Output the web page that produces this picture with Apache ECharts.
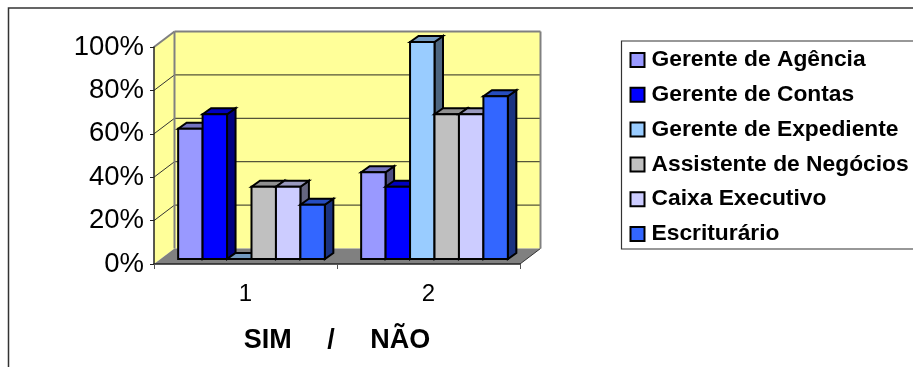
<!DOCTYPE html>
<html>
<head>
<meta charset="utf-8">
<style>html,body{margin:0;padding:0;background:#fff}#chart{width:913px;height:367px}</style>
<script src="https://cdn.jsdelivr.net/npm/echarts@6/dist/echarts.min.js"></script>
</head>
<body>
<div id="chart"></div>
<script>
// Share of answers per job role, drawn as pseudo-3D columns
const categories = ['1', '2'];
const yTicks = [0, 20, 40, 60, 80, 100];
const gerenteAgencia = [60, 40];
const gerenteContas = [66.7, 33.3];
const gerenteExpediente = [0, 100];
const assistenteNegocios = [33.3, 66.7];
const caixaExecutivo = [33.3, 66.7];
const escriturario = [25, 75];
const seriesNames = ['Gerente de Agência', 'Gerente de Contas', 'Gerente de Expediente', 'Assistente de Negócios', 'Caixa Executivo', 'Escriturário'];
const seriesValues = [gerenteAgencia, gerenteContas, gerenteExpediente, assistenteNegocios, caixaExecutivo, escriturario];
const frontColors = ['#9999FF', '#0000FF', '#99CCFF', '#C0C0C0', '#CCCCFF', '#3366FF'];

// Projection of the box: wall depth, column placement inside it, column depth
const WALL_DX = 20.5, WALL_DY = -15.5;
const BAR_SHIFT_X = 6, BAR_SHIFT_Y = -5;
const BAR_DX = 8.5, BAR_DY = -6;
const BAR_SHARE = 24.45 / 183;

function shade(hex, f) {
  const n = parseInt(hex.slice(1), 16);
  const c = [n >> 16, (n >> 8) & 255, n & 255].map(v => Math.round(v * f));
  return 'rgb(' + c.join(',') + ')';
}
function poly(points, fill, stroke, lineWidth) {
  return { type: 'polygon', shape: { points }, style: { fill, stroke, lineWidth, lineJoin: 'miter' } };
}
function line(x1, y1, x2, y2, stroke, lineWidth) {
  return { type: 'line', shape: { x1, y1, x2, y2 }, style: { stroke, lineWidth } };
}

// Walls and floor, one call per y tick; the first call adds the panels
function renderWall(params, api) {
  const cs = params.coordSys;
  const v = api.value(0);
  const y = api.coord([0, v])[1];
  const xL = cs.x, xR = cs.x + cs.width, yT = cs.y, yB = cs.y + cs.height;
  const kids = [];
  if (params.dataIndex === 0) {
    kids.push(poly([[xL + WALL_DX, yT + WALL_DY], [xR + WALL_DX, yT + WALL_DY], [xR + WALL_DX, yB + WALL_DY], [xL + WALL_DX, yB + WALL_DY]], '#FFFF99', null, 0));
    kids.push(poly([[xL, yT], [xL + WALL_DX, yT + WALL_DY], [xL + WALL_DX, yB + WALL_DY], [xL, yB]], '#FFFF99', null, 0));
  }
  if (v > 0 && v < 100) {
    kids.push(line(xL, y, xL + WALL_DX, y + WALL_DY, '#333', 1));
    kids.push(line(xL + WALL_DX, y + WALL_DY, xR + WALL_DX, y + WALL_DY, '#55553a', 1.2));
  }
  if (v === 100) {
    kids.push(line(xL, y, xL + WALL_DX, y + WALL_DY, '#808080', 2));
    kids.push(line(xL + WALL_DX, y + WALL_DY, xR + WALL_DX, y + WALL_DY, '#808080', 2));
    kids.push(line(xL + WALL_DX, yT + WALL_DY, xL + WALL_DX, yB + WALL_DY, '#808080', 2));
    kids.push(line(xR + WALL_DX, yT + WALL_DY, xR + WALL_DX, yB + WALL_DY, '#808080', 2));
  }
  if (v === 0) {
    kids.push(poly([[xL, yB], [xL + WALL_DX, yB + WALL_DY], [xR + WALL_DX, yB + WALL_DY], [xR, yB]], '#808080', null, 0));
    kids.push(line(xR, yB, xR + WALL_DX, yB + WALL_DY, '#333', 1));
  }
  return { type: 'group', children: kids };
}

// One column: side and top faces first, then the front face
function makeBarRenderer(seriesPos, color) {
  return function (params, api) {
    const cat = api.value(0);
    const top = api.coord([cat, api.value(1)]);
    const base = api.coord([cat, 0]);
    const band = api.size([1, 0])[0];
    const w = band * BAR_SHARE;
    const x0 = top[0] + BAR_SHIFT_X + (seriesPos - 3) * w;
    const x1 = x0 + w;
    const yT = top[1] + BAR_SHIFT_Y;
    const yB = base[1] + BAR_SHIFT_Y;
    const kids = [];
    kids.push(poly([[x1, yT], [x1 + BAR_DX, yT + BAR_DY], [x1 + BAR_DX, yB + BAR_DY], [x1, yB]], shade(color, 0.5), '#000', 2));
    kids.push(poly([[x0, yT], [x0 + BAR_DX, yT + BAR_DY], [x1 + BAR_DX, yT + BAR_DY], [x1, yT]], shade(color, 0.75), '#000', 2));
    kids.push(poly([[x0, yT], [x1, yT], [x1, yB], [x0, yB]], color, '#000', 2));
    return { type: 'group', children: kids };
  };
}

const barSeries = seriesNames.map((name, i) => ({
  name,
  type: 'custom',
  coordinateSystem: 'cartesian2d',
  clip: false,
  z: 3,
  itemStyle: { color: frontColors[i] },
  renderItem: makeBarRenderer(i, frontColors[i]),
  encode: { x: 0, y: 1 },
  data: seriesValues[i].map((v, c) => [c, v])
}));

const chart = echarts.init(document.getElementById('chart'), null, { renderer: 'canvas' });
chart.setOption({
  animation: false,
  backgroundColor: '#fff',
  textStyle: { fontFamily: '"Liberation Sans", Arial, sans-serif', color: '#000' },
  graphic: [{
    type: 'rect', silent: true, z: -1,
    shape: { x: 8.5, y: 8, width: 1000, height: 1000 },
    style: { fill: '#fff', stroke: '#333', lineWidth: 1.5 }
  }],
  grid: { left: 154, top: 47, width: 366, height: 217 },
  xAxis: {
    type: 'category',
    data: categories,
    z: 5,
    axisLine: { lineStyle: { color: '#222', width: 1.5 } },
    axisTick: { show: true, length: 5, alignWithLabel: false, lineStyle: { color: '#555', width: 1 } },
    axisLabel: { color: '#000', fontSize: 24, margin: 18 },
    name: 'SIM    \u2009/\u2009    NÃO',
    nameLocation: 'middle',
    nameGap: 63,
    nameTextStyle: { color: '#000', fontSize: 27, fontWeight: 'bold' }
  },
  yAxis: {
    type: 'value',
    min: 0,
    max: 100,
    interval: 20,
    z: 5,
    splitLine: { show: false },
    axisLine: { show: true, lineStyle: { color: '#222', width: 1.5 } },
    axisTick: { show: true, length: 4, lineStyle: { color: '#222', width: 1 } },
    axisLabel: { color: '#000', fontSize: 27.5, margin: 10, padding: [3, 0, 0, 0], formatter: '{value}%' }
  },
  legend: {
    orient: 'vertical',
    left: 621.5,
    top: 41,
    data: seriesNames,
    icon: 'rect',
    itemWidth: 14,
    itemHeight: 14,
    itemGap: 11.8,
    padding: [7.5, 60, 3.5, 8],
    backgroundColor: '#fff',
    borderColor: '#333',
    borderWidth: 1.2,
    borderRadius: 0,
    itemStyle: { borderColor: '#000', borderWidth: 2 },
    textStyle: { color: '#000', fontSize: 22.8, fontWeight: 'bold', padding: [0, 0, 0, 2] },
    selectedMode: false
  },
  series: [{
    name: 'paredes',
    type: 'custom',
    coordinateSystem: 'cartesian2d',
    clip: false,
    silent: true,
    z: 1,
    renderItem: renderWall,
    encode: { x: 0, y: 1 },
    data: yTicks.map(v => [v])
  }].concat(barSeries)
});
</script>
</body>
</html>
